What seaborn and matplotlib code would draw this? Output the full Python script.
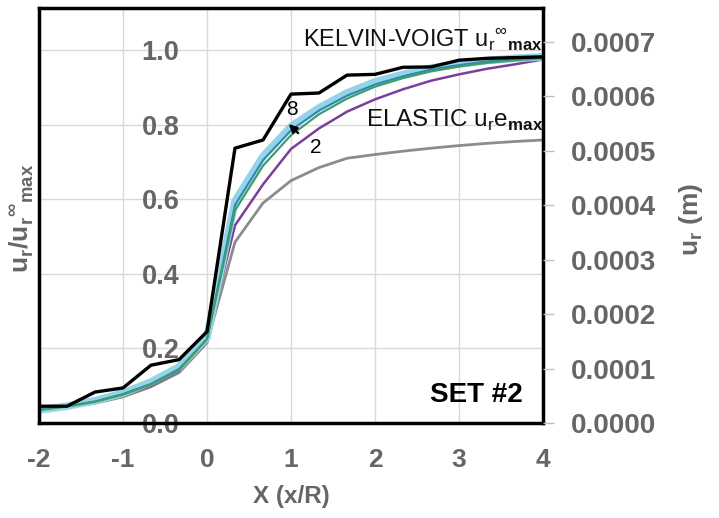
import numpy as np
import pandas as pd
import matplotlib
matplotlib.use("Agg")
import matplotlib.pyplot as plt
import seaborn as sns

# ---- data ----
x_vals = [-2, -1.667, -1.333, -1, -0.667, -0.333, 0, 0.333, 0.667, 1,
          1.333, 1.667, 2, 2.333, 2.667, 3, 3.333, 3.667, 4]
kv_coarse = [0.045, 0.045, 0.083, 0.094, 0.155, 0.17, 0.245, 0.737, 0.759, 0.882,
             0.885, 0.933, 0.935, 0.954, 0.955, 0.973, 0.978, 0.98, 0.982]
kv_8 = [0.035, 0.045, 0.06, 0.08, 0.11, 0.15, 0.23, 0.595, 0.715, 0.795,
        0.845, 0.885, 0.915, 0.935, 0.952, 0.963, 0.972, 0.978, 0.982]
kv_6 = [0.035, 0.045, 0.058, 0.078, 0.105, 0.145, 0.225, 0.585, 0.705, 0.785,
        0.838, 0.878, 0.908, 0.93, 0.948, 0.96, 0.97, 0.976, 0.98]
kv_4 = [0.035, 0.044, 0.057, 0.076, 0.103, 0.142, 0.225, 0.57, 0.69, 0.772,
        0.828, 0.87, 0.902, 0.925, 0.943, 0.956, 0.966, 0.973, 0.978]
kv_2 = [0.035, 0.043, 0.055, 0.073, 0.1, 0.14, 0.225, 0.53, 0.64, 0.735,
        0.79, 0.835, 0.868, 0.895, 0.918, 0.935, 0.95, 0.962, 0.975]
elastic = [0.033, 0.042, 0.053, 0.07, 0.097, 0.135, 0.215, 0.485, 0.59, 0.65,
           0.685, 0.71, 0.72, 0.729, 0.737, 0.744, 0.75, 0.755, 0.759]

x_ticks = [-2, -1, 0, 1, 2, 3, 4]
left_ticks = [0.0, 0.2, 0.4, 0.6, 0.8, 1.0]
right_ticks = [0.0, 0.0001, 0.0002, 0.0003, 0.0004, 0.0005, 0.0006, 0.0007]

series = {
    "elastic": elastic,
    "kv2": kv_2,
    "kv4": kv_4,
    "kv6": kv_6,
    "kv8": kv_8,
    "kv_coarse": kv_coarse,
}
df = pd.concat([pd.DataFrame({"x": x_vals, "y": v, "s": k}) for k, v in series.items()],
               ignore_index=True)

styles = {
    "elastic": dict(color="#8c8c8c", lw=2.0),
    "kv8": dict(color="#94d4ea", lw=5.5),
    "kv6": dict(color="#2f86ad", lw=1.4),
    "kv4": dict(color="#3f9d6c", lw=1.6),
    "kv2": dict(color="#7a3f9a", lw=1.8),
    "kv_coarse": dict(color="#000000", lw=2.4),
}
draw_order = ["elastic", "kv2", "kv8", "kv6", "kv4", "kv_coarse"]

# ---- style ----
sns.set_theme(style="white")
plt.rcParams["font.family"] = ["Liberation Sans", "DejaVu Sans"]
plt.rcParams["mathtext.fontset"] = "custom"
plt.rcParams["mathtext.rm"] = "Liberation Sans"
plt.rcParams["mathtext.bf"] = "Liberation Sans:bold"

GRAY = "#666666"

fig = plt.figure(figsize=(7.19, 5.18), dpi=100)
ax = fig.add_axes([39 / 719, 1 - 423 / 518, 504 / 719, 415 / 518])

for key in draw_order:
    sub = df[df["s"] == key]
    sns.lineplot(data=sub, x="x", y="y", ax=ax, color=styles[key]["color"],
                 linewidth=styles[key]["lw"], legend=False, sort=False)

ax.set_xlim(-2, 4)
ax.set_ylim(0, 1.113)
ax.set_xticks(x_ticks)
ax.set_xticklabels([str(t) for t in x_ticks])
ax.set_yticks(left_ticks)
ax.set_yticklabels([f"{t:.1f}" for t in left_ticks])
ax.grid(True, color="#d9d9d9", lw=1.0)
ax.set_axisbelow(True)
for sp in ax.spines.values():
    sp.set_color("black")
    sp.set_linewidth(2.5)

ax.tick_params(axis="y", length=0, pad=-101, labelsize=19.5, labelcolor=GRAY)
ax.tick_params(axis="x", length=0, pad=18, labelsize=19, labelcolor=GRAY)
for lab in ax.get_xticklabels() + ax.get_yticklabels():
    lab.set_fontweight("bold")

ax.set_xlabel("X (x/R)", fontsize=17.5, color=GRAY, fontweight="bold")
ax.xaxis.set_label_coords(0.5, -0.15)
ax.set_ylabel(r"u$_\mathregular{r}$/u$_\mathregular{r}$$^\mathregular{\infty}$$_\mathregular{max}$",
              fontsize=19, color=GRAY, fontweight="bold")
ax.yaxis.set_label_coords(-0.006, 0.494)

# right axis
ax2 = ax.twinx()
ax2.set_ylim(0, 0.000762)
ax2.set_yticks(right_ticks)
ax2.set_yticklabels([f"{t:.4f}" for t in right_ticks])
ax2.tick_params(axis="y", length=8, width=1, color="#bfbfbf", pad=12,
                labelsize=20, labelcolor=GRAY)
for lab in ax2.get_yticklabels():
    lab.set_fontweight("bold")
for sp in ax2.spines.values():
    sp.set_visible(False)
ax2.grid(False)
ax2.set_ylabel(r"u$_\mathregular{r}$ (m)", fontsize=19, color=GRAY, fontweight="bold")
ax2.yaxis.set_label_coords(1.266, 0.49)

# annotations
ax.text(4.0, 1.027,
        r"KELVIN-VOIGT u$_\mathregular{r}$$^\mathregular{\infty}$$_\mathbf{max}$",
        ha="right", va="center", fontsize=17, color="#111111")
ax.text(4.0, 0.812, r"ELASTIC u$_\mathregular{r}$e$_\mathbf{max}$",
        ha="right", va="center", fontsize=17.5, color="#111111")
ax.text(3.76, 0.075, "SET #2", ha="right", va="center", fontsize=20,
        fontweight="bold", color="black")
ax.text(1.01, 0.84, "8", ha="center", va="center", fontsize=15, color="black")
ax.text(1.29, 0.74, "2", ha="center", va="center", fontsize=15, color="black")
ax.annotate("", xy=(0.95, 0.807), xytext=(1.11, 0.772),
            arrowprops=dict(arrowstyle="-|>", color="black", lw=1.6, mutation_scale=12))

fig.savefig("out.png", dpi=100)
